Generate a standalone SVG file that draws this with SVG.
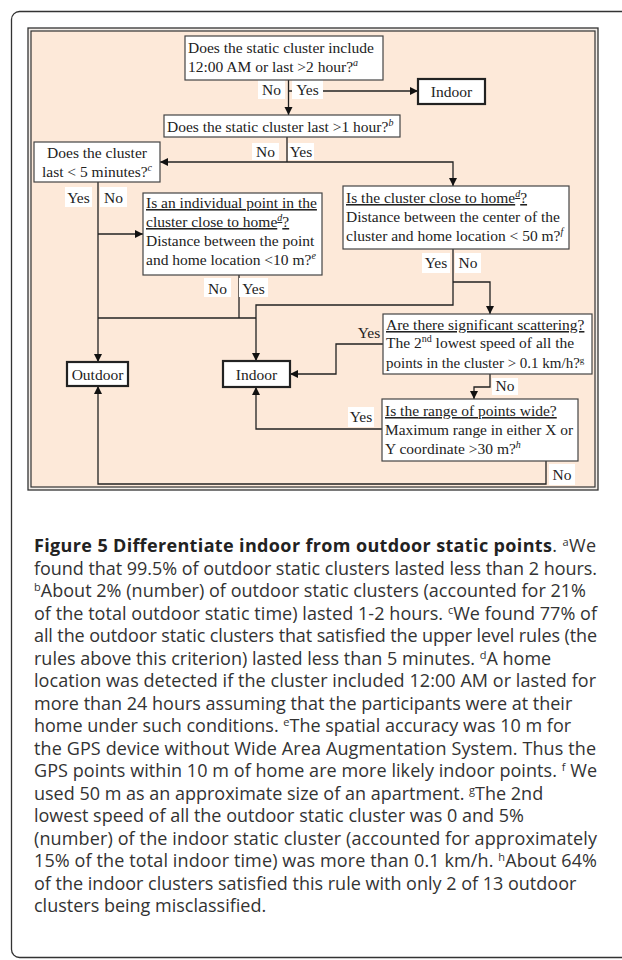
<svg xmlns="http://www.w3.org/2000/svg" width="622" height="960" viewBox="0 0 622 960">
<style>
.t{font-family:"Liberation Serif","Times New Roman",serif;font-size:15.5px;fill:#222}
.c{text-anchor:middle}
.u{text-decoration:underline}
.sup{font-size:10px;font-style:italic}
.box{fill:#fff;stroke:#444;stroke-width:1.2}
.term{fill:#fff;stroke:#222;stroke-width:2.2}
.lbl{fill:#fff;stroke:none}
.ln{fill:none;stroke:#222;stroke-width:1.3}
.ar{marker-end:url(#ah)}
.cap{font-family:"Open Sans","Noto Sans","Liberation Sans",sans-serif;font-size:18px;fill:#333}
.cs{font-size:11px}
</style>
<defs>
<marker id="ah" markerUnits="userSpaceOnUse" markerWidth="9" markerHeight="9" refX="8" refY="4" orient="auto">
<path d="M0,0 L8,4 L0,8 z" fill="#111"/>
</marker>
</defs>
<rect x="11.5" y="11.5" width="640" height="946" rx="8" fill="#fff" stroke="#333" stroke-width="1.3"/>
<rect x="28" y="28" width="570" height="462" fill="#f2ede8" stroke="#333" stroke-width="1.3"/>
<rect x="31" y="31" width="564" height="456" fill="#fde9d9" stroke="#333" stroke-width="1.2"/>

<g id="connectors">
<path class="ln ar" d="M288.5,80 V115"/>
<path class="ln ar" d="M288.5,91 H418"/>
<path class="ln" d="M287,137 V162"/>
<path class="ln ar" d="M287,162 H160"/>
<path class="ln ar" d="M287,162 H453 V186"/>
<path class="ln ar" d="M98,182 V362"/>
<path class="ln ar" d="M98,234 H143"/>
<path class="ln" d="M239,275 V318"/>
<path class="ln" d="M98,318 H256"/>
<path class="ln ar" d="M453,249 V305 H256 V361"/>
<path class="ln ar" d="M453,282 H490 V314"/>
<path class="ln ar" d="M383,344 H336 V374 H290"/>
<path class="ln ar" d="M490,374 V387 H474 V399"/>
<path class="ln ar" d="M382,429 H256 V387"/>
<path class="ln ar" d="M546,461 V484 H98 V386"/>
<rect class="lbl" x="258" y="80" width="27" height="19"/>
<text class="t c" x="271.5" y="95">No</text>
<rect class="lbl" x="292" y="80" width="31" height="19"/>
<text class="t c" x="307.5" y="95">Yes</text>
<rect class="lbl" x="252" y="143" width="27" height="17"/>
<text class="t c" x="265.5" y="157">No</text>
<rect class="lbl" x="288" y="143" width="26" height="17"/>
<text class="t c" x="301" y="157">Yes</text>
<rect class="lbl" x="65" y="187" width="27" height="20"/>
<text class="t c" x="78.5" y="202.5">Yes</text>
<rect class="lbl" x="100" y="187" width="27" height="20"/>
<text class="t c" x="113.5" y="202.5">No</text>
<rect class="lbl" x="204" y="278" width="27" height="19"/>
<text class="t c" x="217.5" y="293.5">No</text>
<rect class="lbl" x="239" y="278" width="29" height="19"/>
<text class="t c" x="253.5" y="293.5">Yes</text>
<rect class="lbl" x="422" y="253" width="28" height="20"/>
<text class="t c" x="436" y="268">Yes</text>
<rect class="lbl" x="455" y="253" width="26" height="20"/>
<text class="t c" x="468" y="268">No</text>
<text class="t c" x="369" y="338">Yes</text>
<rect class="lbl" x="492" y="378" width="26" height="17"/>
<text class="t c" x="505" y="391">No</text>
<rect class="lbl" x="348" y="407" width="26" height="20"/>
<text class="t c" x="361" y="422">Yes</text>
<rect class="lbl" x="549" y="464" width="26" height="21"/>
<text class="t c" x="562" y="480">No</text>
</g>

<g id="q1">
<rect class="box" x="185" y="36" width="198" height="44"/>
<text class="t" x="188" y="53">Does the static cluster include</text>
<text class="t" x="188" y="72">12:00 AM or last &gt;2 hour?<tspan class="sup" dy="-6">a</tspan></text>
</g>
<g id="indoor1">
<rect class="term" x="418" y="79" width="67" height="25"/>
<text class="t c" x="451.5" y="97">Indoor</text>
</g>
<g id="q2">
<rect class="box" x="164" y="115" width="236" height="22"/>
<text class="t" x="167" y="132">Does the static cluster last &gt;1 hour?<tspan class="sup" dy="-6">b</tspan></text>
</g>
<g id="q3">
<rect class="box" x="34" y="142" width="126" height="40"/>
<text class="t c" x="97" y="158">Does the cluster</text>
<text class="t c" x="97" y="177">last &lt; 5 minutes?<tspan class="sup" dy="-6">c</tspan></text>
</g>
<g id="q4">
<rect class="box" x="143" y="193" width="179" height="82"/>
<text class="t u" x="146" y="208">Is an individual point in the</text>
<text class="t u" x="146" y="227">cluster close to home<tspan class="sup" dy="-6">d</tspan><tspan dy="6">?</tspan></text>
<text class="t" x="146" y="246">Distance between the point</text>
<text class="t" x="146" y="265">and home location &lt;10 m?<tspan class="sup" dy="-6">e</tspan></text>
</g>
<g id="q5">
<rect class="box" x="343" y="186" width="226" height="63"/>
<text class="t u" x="346" y="203">Is the cluster close to home<tspan class="sup" dy="-6">d</tspan><tspan dy="6">?</tspan></text>
<text class="t" x="346" y="222">Distance between the center of the</text>
<text class="t" x="346" y="241">cluster and home location &lt; 50 m?<tspan class="sup" dy="-6">f</tspan></text>
</g>
<g id="q6">
<rect class="box" x="383" y="314" width="209" height="60"/>
<text class="t u" x="386" y="330">Are there significant scattering?</text>
<text class="t" x="386" y="348">The 2<tspan font-size="10" dy="-6">nd</tspan><tspan dy="6"> lowest speed of all the</tspan></text>
<text class="t" x="386" y="368" style="font-size:15px">points in the cluster &gt; 0.1 km/h?<tspan font-size="9" dy="-5">g</tspan></text>
</g>
<g id="q7">
<rect class="box" x="382" y="399" width="196" height="62"/>
<text class="t u" x="385" y="416">Is the range of points wide?</text>
<text class="t" x="385" y="435" textLength="188" lengthAdjust="spacingAndGlyphs">Maximum range in either X or</text>
<text class="t" x="385" y="454">Y coordinate &gt;30 m?<tspan class="sup" dy="-6">h</tspan></text>
</g>
<g id="outdoor">
<rect class="term" x="67" y="362" width="61" height="24"/>
<text class="t c" x="97.5" y="380">Outdoor</text>
</g>
<g id="indoor2">
<rect class="term" x="223" y="361" width="67" height="26"/>
<text class="t c" x="256.5" y="380">Indoor</text>
</g>

<g id="caption">
<text class="cap" x="34" y="552" textLength="562" lengthAdjust="spacing"><tspan font-weight="bold" fill="#222">Figure 5 Differentiate indoor from outdoor static points</tspan>. <tspan class="cs" dy="-6">a</tspan><tspan dy="6">We</tspan></text>
<text class="cap" x="34" y="574.5" textLength="563" lengthAdjust="spacing">found that 99.5% of outdoor static clusters lasted less than 2 hours.</text>
<text class="cap" x="34" y="597" textLength="552" lengthAdjust="spacing"><tspan class="cs" dy="-6">b</tspan><tspan dy="6">About 2% (number) of outdoor static clusters (accounted for 21%</tspan></text>
<text class="cap" x="34" y="619.5" textLength="563" lengthAdjust="spacing">of the total outdoor static time) lasted 1-2 hours. <tspan class="cs" dy="-6">c</tspan><tspan dy="6">We found 77% of</tspan></text>
<text class="cap" x="34" y="642" textLength="563" lengthAdjust="spacing">all the outdoor static clusters that satisfied the upper level rules (the</text>
<text class="cap" x="34" y="664.5">rules above this criterion) lasted less than 5 minutes. <tspan class="cs" dy="-6">d</tspan><tspan dy="6">A home</tspan></text>
<text class="cap" x="34" y="687" textLength="562" lengthAdjust="spacing">location was detected if the cluster included 12:00 AM or lasted for</text>
<text class="cap" x="34" y="709.5">more than 24 hours assuming that the participants were at their</text>
<text class="cap" x="34" y="732">home under such conditions. <tspan class="cs" dy="-6">e</tspan><tspan dy="6">The spatial accuracy was 10 m for</tspan></text>
<text class="cap" x="34" y="754.5" textLength="562" lengthAdjust="spacing">the GPS device without Wide Area Augmentation System. Thus the</text>
<text class="cap" x="34" y="777" textLength="563" lengthAdjust="spacing">GPS points within 10 m of home are more likely indoor points. <tspan class="cs" dy="-6">f</tspan><tspan dy="6"> We</tspan></text>
<text class="cap" x="34" y="799.5">used 50 m as an approximate size of an apartment. <tspan class="cs" dy="-6">g</tspan><tspan dy="6">The 2nd</tspan></text>
<text class="cap" x="34" y="822">lowest speed of all the outdoor static cluster was 0 and 5%</text>
<text class="cap" x="34" y="844.5" textLength="563" lengthAdjust="spacing">(number) of the indoor static cluster (accounted for approximately</text>
<text class="cap" x="34" y="867" textLength="563" lengthAdjust="spacing">15% of the total indoor time) was more than 0.1 km/h. <tspan class="cs" dy="-6">h</tspan><tspan dy="6">About 64%</tspan></text>
<text class="cap" x="34" y="889.5">of the indoor clusters satisfied this rule with only 2 of 13 outdoor</text>
<text class="cap" x="34" y="912">clusters being misclassified.</text>
</g>
</svg>
